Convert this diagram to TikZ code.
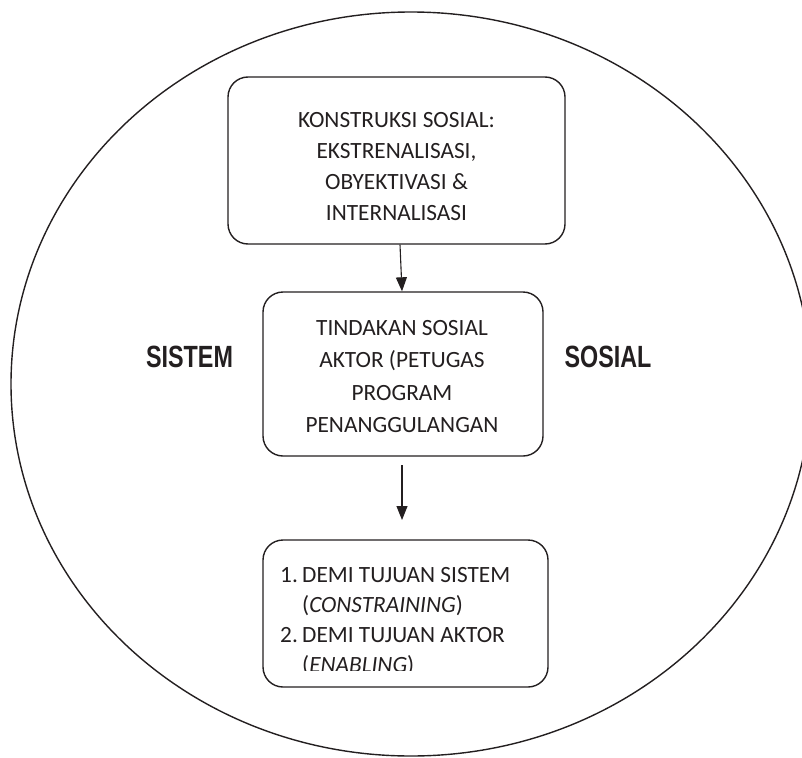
\documentclass[tikz,border=0pt]{standalone}
\usepackage{fontspec}
\setmainfont{Carlito}
\newfontfamily\arialfont{Liberation Sans}
\usetikzlibrary{arrows.meta}
\definecolor{ink}{HTML}{231F20}
\tikzset{
  boxshape/.style={draw=ink, line width=1.4pt, rounded corners=20pt, minimum width=#1, inner sep=0pt},
  txt/.style={anchor=base, inner sep=0pt, text=ink, font=\fontsize{23.3}{31}\selectfont},
  ltxt/.style={anchor=base west, inner sep=0pt, text=ink, font=\fontsize{23.3}{31}\selectfont},
  bigword/.style={anchor=base, inner sep=0pt, text=ink},
  arr/.style={draw=ink, line width=1.1pt, -{Triangle[length=14pt,width=11pt]}}
}
\newcommand{\bigtxt}[1]{\scalebox{0.76}[1]{\arialfont\bfseries\fontsize{30.7}{36}\selectfont #1}}
\newcommand{\itemnum}[1]{\makebox[22pt][l]{#1}}
\begin{document}
\begin{tikzpicture}[x=1pt,y=-1pt]
\useasboundingbox (0,0) rectangle (802,757);
\begin{scope}
  \clip (0,0) rectangle (802,757);
  \draw[ink, line width=1.4pt] (411,384) ellipse [x radius=400pt, y radius=372pt];
\end{scope}

% boxes
\node[boxshape=337pt, minimum height=167pt] (b1) at (396.5,160.5) {};
\node[boxshape=280pt, minimum height=164pt] (b2) at (403,374) {};
\node[boxshape=285pt, minimum height=147pt] (b3) at (405.5,613.5) {};

% box 1 text
\node[txt] (t11) at (396.5,127) {KONSTRUKSI SOSIAL:};
\node[txt] (t12) at (396.5,158) {EKSTRENALISASI,};
\node[txt] (t13) at (396.5,189) {OBYEKTIVASI \&};
\node[txt] (t14) at (396.5,220) {INTERNALISASI};

% box 2 text
\node[txt] (t21) at (402,335) {TINDAKAN SOSIAL};
\node[txt] (t22) at (402,367) {AKTOR (PETUGAS};
\node[txt] (t23) at (402,400) {PROGRAM};
\node[txt] (t24) at (402,432) {PENANGGULANGAN};

% box 3 text (clipped)
\begin{scope}
  \clip (263,540) rectangle (548,670);
  \node[ltxt] (t31) at (280,582) {\itemnum{1.}DEMI TUJUAN SISTEM};
  \node[ltxt] (t32) at (280,612) {\itemnum{}(\textit{CONSTRAINING})};
  \node[ltxt] (t33) at (280,642) {\itemnum{2.}DEMI TUJUAN AKTOR};
  \node[ltxt] (t34) at (280,672) {\itemnum{}(\textit{ENABLING})};
\end{scope}

% side labels
\node[bigword] (sis) at (189.5,367) {\bigtxt{SISTEM}};
\node[bigword] (sos) at (608,367) {\bigtxt{SOSIAL}};

% arrows
\draw[arr] ([xshift=3.5pt]b1.south) -- ([xshift=-1pt]b2.north);
\coordinate (a2s) at (402,465);
\coordinate (a2e) at (402,520);
\draw[arr] (a2s) -- (a2e);
\end{tikzpicture}
\end{document}
